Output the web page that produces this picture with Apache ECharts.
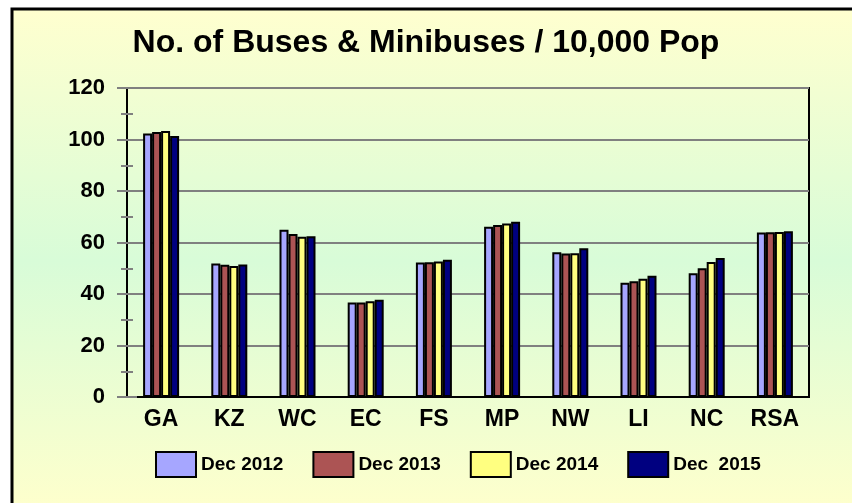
<!DOCTYPE html>
<html>
<head>
<meta charset="utf-8">
<script src="https://cdn.jsdelivr.net/npm/echarts@6/dist/echarts.min.js"></script>
<style>
  html, body { margin: 0; padding: 0; background: #fff; }
  #chart { width: 852px; height: 503px; }
</style>
</head>
<body>
<div id="chart"></div>
<script>
const categories = ['GA', 'KZ', 'WC', 'EC', 'FS', 'MP', 'NW', 'LI', 'NC', 'RSA'];
const seriesNames = ['Dec 2012', 'Dec 2013', 'Dec 2014', 'Dec  2015'];
const dec2012 = [102.3, 51.8, 65.0, 36.7, 52.2, 66.1, 56.2, 44.4, 48.1, 63.9];
const dec2013 = [102.9, 51.4, 63.3, 36.7, 52.3, 66.8, 55.7, 45.0, 50.0, 64.0];
const dec2014 = [103.3, 50.9, 62.2, 37.2, 52.6, 67.4, 55.8, 45.9, 52.4, 64.1];
const dec2015 = [101.4, 51.5, 62.4, 37.8, 53.3, 68.1, 57.8, 47.1, 54.0, 64.4];
const yTicks = [0, 20, 40, 60, 80, 100, 120];
const colors = ['#a6a6ff', '#ac5454', '#ffff80', '#000080'];

const chart = echarts.init(document.getElementById('chart'));
const fontFam = '"Liberation Sans", Arial, sans-serif';

const makeSeries = (name, data, color) => ({
  name: name,
  type: 'bar',
  data: data,
  barWidth: 9,
  barGap: '0%',
  itemStyle: {
    color: color,
    borderColor: '#000',
    borderWidth: 2
  }
});

const option = {
  animation: false,
  graphic: [
    {
      // chart frame, only its left and top edges fall inside the picture
      type: 'rect',
      z: -10,
      shape: { x: 12, y: 9, width: 900, height: 560 },
      style: {
        fill: new echarts.graphic.LinearGradient(0, 0, 0, 1, [
          { offset: 0, color: '#ffffcf' },
          { offset: 0.45, color: '#d8fcd8' },
          { offset: 0.9, color: '#ffffcc' }
        ]),
        stroke: '#000',
        lineWidth: 3
      }
    }
  ],
  title: {
    text: 'No. of Buses & Minibuses / 10,000 Pop',
    left: 'center',
    top: 22,
    textStyle: {
      fontFamily: fontFam,
      fontWeight: 'bold',
      fontSize: 32,
      color: '#000'
    }
  },
  legend: {
    data: seriesNames,
    bottom: 20,
    left: 150,
    itemWidth: 40,
    itemHeight: 25,
    itemGap: 29,
    icon: 'rect',
    textStyle: {
      fontFamily: fontFam,
      fontWeight: 'bold',
      fontSize: 19,
      color: '#000'
    }
  },
  grid: {
    left: 127,
    right: 43,
    top: 88,
    bottom: 106,
    show: true,
    borderColor: '#000',
    borderWidth: 2,
    backgroundColor: 'transparent'
  },
  xAxis: {
    type: 'category',
    data: categories,
    axisLine: { lineStyle: { color: '#000', width: 2 } },
    axisTick: { length: 5, lineStyle: { color: '#808080', width: 2 } },
    axisLabel: {
      margin: 11,
      fontFamily: fontFam,
      fontWeight: 'bold',
      fontSize: 23,
      color: '#000'
    }
  },
  yAxis: [
    {
      type: 'value',
      min: yTicks[0],
      max: yTicks[yTicks.length - 1],
      interval: 20,
      axisLine: { show: true, lineStyle: { color: '#000', width: 2 } },
      axisTick: { show: true, length: 10, lineStyle: { color: '#808080', width: 2 } },
      minorTick: { show: true, splitNumber: 2, length: 6, lineStyle: { color: '#808080', width: 2 } },
      splitLine: { lineStyle: { color: '#808080', width: 2 } },
      axisLabel: {
        margin: 22,
        fontFamily: fontFam,
        fontWeight: 'bold',
        fontSize: 22,
        color: '#000'
      }
    },
    {
      // inside half of the crossing ticks
      type: 'value',
      position: 'left',
      min: yTicks[0],
      max: yTicks[yTicks.length - 1],
      interval: 20,
      axisLine: { show: false },
      axisLabel: { show: false },
      splitLine: { show: false },
      axisTick: { show: true, inside: true, length: 10, lineStyle: { color: '#808080', width: 2 } },
      minorTick: { show: true, splitNumber: 2, length: 6, lineStyle: { color: '#808080', width: 2 } }
    }
  ],
  series: [
    makeSeries(seriesNames[0], dec2012, colors[0]),
    makeSeries(seriesNames[1], dec2013, colors[1]),
    makeSeries(seriesNames[2], dec2014, colors[2]),
    makeSeries(seriesNames[3], dec2015, colors[3])
  ]
};

chart.setOption(option);
</script>
</body>
</html>
